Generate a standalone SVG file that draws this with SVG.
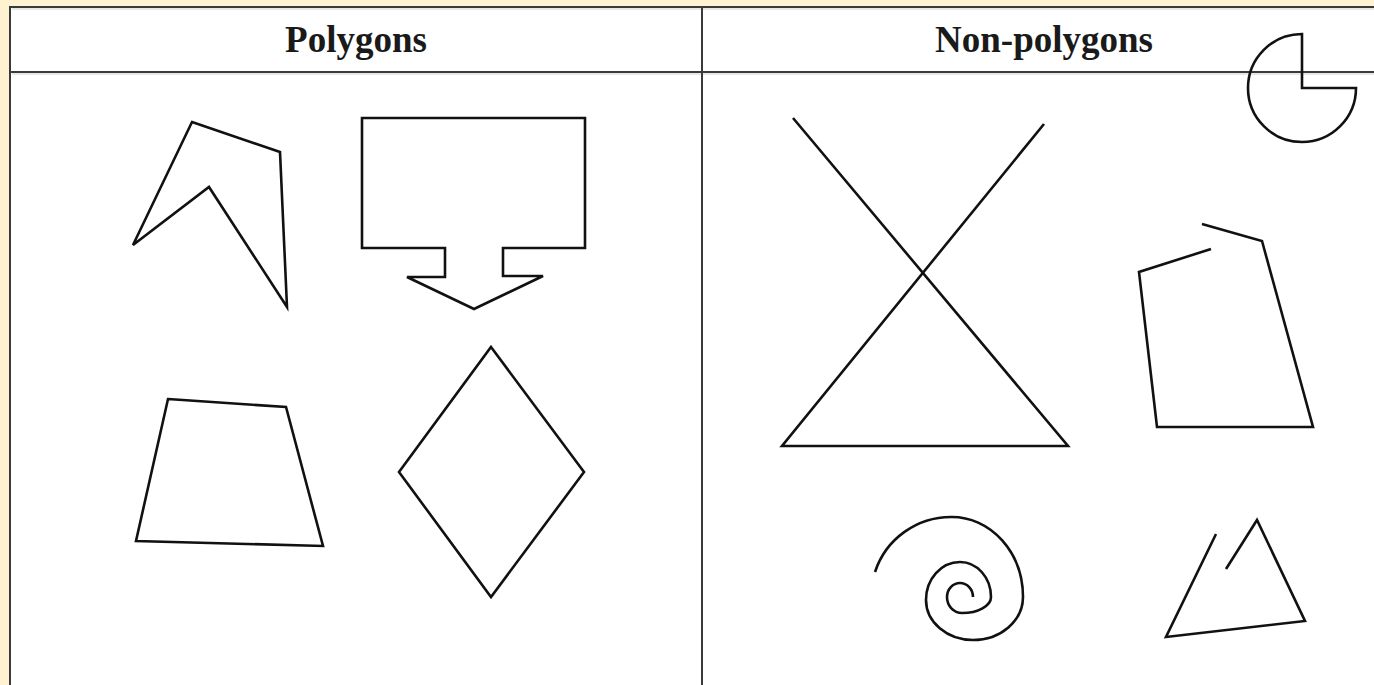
<svg xmlns="http://www.w3.org/2000/svg" width="1374" height="685" viewBox="0 0 1374 685">
<style>
.grid{stroke:#3a3a3a;stroke-width:2;fill:none}
.halo{stroke:#cfcfcf;stroke-width:1;fill:none}
.shape{stroke:#111;stroke-width:2.6;fill:none;stroke-linejoin:miter;stroke-linecap:butt}
.head{font-family:"Liberation Serif","Times New Roman",serif;font-weight:bold;font-size:37px;fill:#1a1a1a;text-anchor:middle}
</style>
<rect x="0" y="0" width="1374" height="685" fill="#FEF2D0"/>
<rect x="10" y="7" width="1364" height="678" fill="#ffffff"/>
<g id="table">
<line class="halo" x1="12" y1="9" x2="1374" y2="9"/>
<line class="halo" x1="12" y1="74" x2="1374" y2="74"/>
<line class="grid" x1="10" y1="7" x2="1374" y2="7"/>
<line class="grid" x1="10" y1="6" x2="10" y2="685"/>
<line class="grid" x1="10" y1="72" x2="1374" y2="72"/>
<line class="grid" x1="702" y1="7" x2="702" y2="685"/>
</g>
<g id="header-polygons"><text class="head" x="356" y="52">Polygons</text></g>
<g id="header-nonpolygons"><text class="head" x="1044" y="52">Non-polygons</text></g>
<g id="concave-pentagon"><polygon class="shape" points="192,122 280,152 287,307 209,187 133,245"/></g>
<g id="arrow-box"><polygon class="shape" points="362,118 585,118 585,248 503,248 503,276 543,276 474,309 407,277 445,277 445,248 362,248"/></g>
<g id="trapezoid"><polygon class="shape" points="168,399 286,407 323,546 136,541"/></g>
<g id="rhombus"><polygon class="shape" points="491,347 584,472 491,597 399,472"/></g>
<g id="pie"><path class="shape" d="M1302,88 L1302,34 A54,54 0 1 0 1356,88 Z"/></g>
<g id="crossed-shape"><polyline class="shape" points="793,118 1068,446 782,446 1044,124"/></g>
<g id="open-hexagon"><polyline class="shape" points="1202,224 1262,241 1313,427 1157,427 1139,272 1211,249"/></g>
<g id="spiral"><path class="shape" d="M875,572 A80,80 0 0 1 952,517 A71,80 0 0 1 1023,597 A50,43 0 0 1 973,640 A47,40 0 0 1 926,600 A34,38 0 0 1 960,562 A31,35 0 0 1 991,597 A29,16 0 0 1 962,613 A15,16 0 0 1 947,597 A13,14 0 0 1 960,583 A13,14 0 0 1 973,597"/></g>
<g id="open-triangle"><polyline class="shape" points="1216,534 1166,637 1305,621 1257,520 1226,569"/></g>
</svg>
